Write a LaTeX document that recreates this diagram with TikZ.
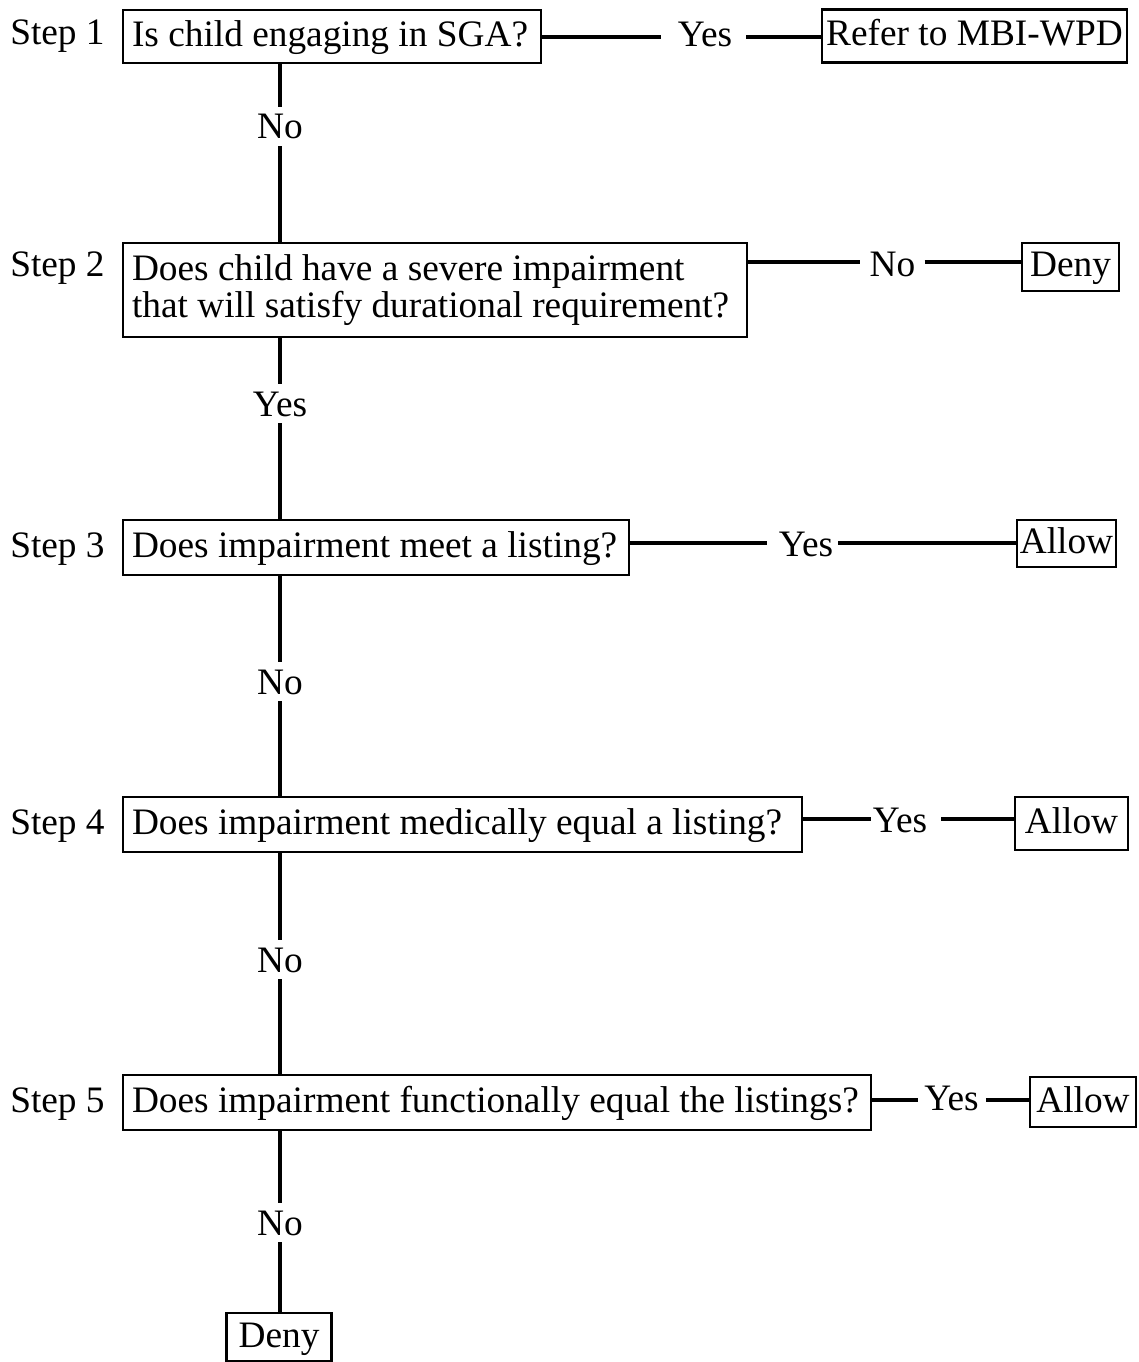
\documentclass[tikz,border=0pt]{standalone}
\usepackage{fontspec}
\setmainfont{Liberation Serif}
\newcommand{\qtxt}[2]{\makebox[#1][l]{#2}}
\begin{document}
\begin{tikzpicture}[x=0.75pt,y=-0.75pt,
  every node/.style={font=\fontsize{28}{27.5}\selectfont},
  box/.style={draw, line width=1.6pt, inner sep=0pt, text height=20pt, text depth=5pt},
  qbox/.style={draw, line width=1.6pt, inner ysep=0pt, inner xsep=6.75pt, text height=20pt, text depth=5pt},
  twobox/.style={draw, line width=1.6pt, inner ysep=0pt, inner xsep=6.75pt, align=left},
  lbl/.style={inner sep=0pt, text height=18pt, text depth=0pt, anchor=base},
  steplbl/.style={inner sep=0pt, anchor=base west},
  conn/.style={line width=2.9pt}]
\useasboundingbox (0,0) rectangle (1138,1362);

% step labels
\node[steplbl] (s1) at (10,45) {Step 1};
\node[steplbl] (s2) at (10,277) {Step 2};
\node[steplbl] (s3) at (10,557) {Step 3};
\node[steplbl] (s4) at (10,834) {Step 4};
\node[steplbl] (s5) at (10,1112) {Step 5};

% question boxes
\node[qbox, minimum height=39.75pt] (b1) at (332,36.5) {\qtxt{300pt}{Is child engaging in SGA?}};
\node[twobox, minimum height=70.5pt] (b2) at (435,290) {\qtxt{454.5pt}{Does child have a severe impairment}\\\qtxt{454.5pt}{that will satisfy durational requirement?}};
\node[qbox, minimum height=41.25pt] (b3) at (376,547.5) {\qtxt{366pt}{Does impairment meet a listing?}};
\node[qbox, minimum height=41.25pt] (b4) at (462.5,824.5) {\qtxt{495.75pt}{Does impairment medically equal a listing?}};
\node[qbox, minimum height=41.25pt] (b5) at (497,1102.5) {\qtxt{547.5pt}{Does impairment functionally equal the listings?}};

% outcome boxes
\node[box, minimum width=228.75pt, minimum height=39.75pt] (r1) at (974.5,36) {Refer to MBI-WPD};
\node[box, minimum width=72.75pt, minimum height=36pt] (d2) at (1070.5,267) {Deny};
\node[box, minimum width=74.25pt, minimum height=35.25pt] (a3) at (1066.5,543.5) {Allow};
\node[box, minimum width=84.75pt, minimum height=39.75pt] (a4) at (1071.5,823.5) {Allow};
\node[box, minimum width=79.5pt, minimum height=37.5pt] (a5) at (1083,1102) {Allow};
\node[box, minimum width=78.75pt, minimum height=36pt] (dF) at (279,1337) {Deny};

% horizontal labels
\node[lbl] (y1) at (705,47) {Yes};
\node[lbl] (n2) at (892.5,277) {No};
\node[lbl] (y3) at (806,556) {Yes};
\node[lbl] (y4) at (900,832) {Yes};
\node[lbl] (y5) at (951.5,1110) {Yes};

% vertical labels
\node[lbl] (v1) at (280,139) {No};
\node[lbl] (v2) at (280,416) {Yes};
\node[lbl] (v3) at (280,694) {No};
\node[lbl] (v4) at (280,972) {No};
\node[lbl] (v5) at (280,1235) {No};

% row and spine coordinates
\coordinate (sp) at (280,0);
\coordinate (l1) at (0,37);
\coordinate (l2) at (0,262);
\coordinate (l3) at (0,543);
\coordinate (l4) at (0,819);
\coordinate (l5) at (0,1100);

% horizontal connectors
\draw[conn, shorten >=12.75pt] (b1.east |- l1) -- (y1.west |- l1);
\draw[conn, shorten <=10.5pt] (y1.east |- l1) -- (r1.west |- l1);
\draw[conn, shorten >=6.75pt] (b2.east |- l2) -- (n2.west |- l2);
\draw[conn, shorten <=6.75pt] (n2.east |- l2) -- (d2.west |- l2);
\draw[conn, shorten >=9pt] (b3.east |- l3) -- (y3.west |- l3);
\draw[conn, shorten <=3.75pt] (y3.east |- l3) -- (a3.west |- l3);
\draw[conn, shorten >=1.5pt] (b4.east |- l4) -- (y4.west |- l4);
\draw[conn, shorten <=10.5pt] (y4.east |- l4) -- (a4.west |- l4);
\draw[conn, shorten >=4.5pt] (b5.east |- l5) -- (y5.west |- l5);
\draw[conn, shorten <=5.25pt] (y5.east |- l5) -- (a5.west |- l5);

% vertical connectors
\draw[conn, shorten >=6pt] (b1.south -| sp) -- (v1.north);
\draw[conn, shorten <=5.25pt] (v1.south) -- (b2.north -| sp);
\draw[conn, shorten >=6pt] (b2.south -| sp) -- (v2.north);
\draw[conn, shorten <=5.25pt] (v2.south) -- (b3.north -| sp);
\draw[conn, shorten >=6pt] (b3.south -| sp) -- (v3.north);
\draw[conn, shorten <=5.25pt] (v3.south) -- (b4.north -| sp);
\draw[conn, shorten >=6pt] (b4.south -| sp) -- (v4.north);
\draw[conn, shorten <=5.25pt] (v4.south) -- (b5.north -| sp);
\draw[conn, shorten >=6pt] (b5.south -| sp) -- (v5.north);
\draw[conn, shorten <=5.25pt] (v5.south) -- (dF.north -| sp);
\end{tikzpicture}
\end{document}
